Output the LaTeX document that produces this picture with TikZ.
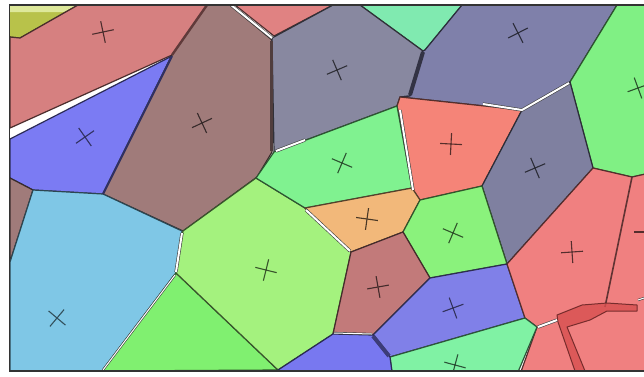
\documentclass[tikz,border=0pt]{standalone}
\definecolor{cOlive}{HTML}{B8C24A}
\definecolor{cOliveL}{HTML}{DDE89A}
\definecolor{cPinkTL}{HTML}{D68080}
\definecolor{cBlue}{HTML}{7B7BF3}
\definecolor{cBrown}{HTML}{A07B7A}
\definecolor{cLBlue}{HTML}{7FC7E6}
\definecolor{cGreenB}{HTML}{80F070}
\definecolor{cLGreen}{HTML}{A4F27E}
\definecolor{cPinkTop}{HTML}{E08282}
\definecolor{cGray}{HTML}{8888A0}
\definecolor{cMint}{HTML}{80EAB0}
\definecolor{cSlateT}{HTML}{7F80AA}
\definecolor{cGreenR}{HTML}{80F084}
\definecolor{cSalmon}{HTML}{F58478}
\definecolor{cGreenM}{HTML}{80F290}
\definecolor{cSlateM}{HTML}{7F80A0}
\definecolor{cOrange}{HTML}{F2B87A}
\definecolor{cGreenTwo}{HTML}{8AF27C}
\definecolor{cMauve}{HTML}{C27A7A}
\definecolor{cBlueM}{HTML}{8080E8}
\definecolor{cGreenThree}{HTML}{80F2A4}
\definecolor{cBlueTwo}{HTML}{7878F0}
\definecolor{cRed}{HTML}{F08080}
\definecolor{cBand}{HTML}{D85050}
\newcommand\vorcross[4]{\begin{scope}[shift={(#2,#3)},rotate=#4]\draw[line width=1.1pt,#1] (-11,0) -- (11,0) (0,-11) -- (0,11);\end{scope}}
\begin{document}
\begin{tikzpicture}[x=1pt,y=-1pt,
  cell/.style={fill=#1, draw=#1!35!black, line width=1.2pt, line join=round},
  gapline/.style={draw=black!75, double=white, double distance=#1, line width=0.6pt},
  gapline/.default=2pt,
  stripline/.style={draw=#1, line width=3pt}]
\useasboundingbox (0,0) rectangle (644,376);
\begin{scope}
\clip (10,5) rectangle (644,371);
% cells
\fill[cOlive] (10,5) -- (78,5) -- (20,38) -- (10,37) -- cycle;
\fill[cOliveL] (10,5) -- (78,5) -- (66,12) -- (10,12) -- cycle;
\draw[cOlive!40!black, line width=1.2pt] (78,5) -- (20,38) -- (10,37);
\path[cell=cPinkTL] (78,5) -- (210,5) -- (172,55) -- (10,128) -- (10,37) -- (20,38) -- cycle;
\path[cell=cBlue] (172,56) -- (10,139) -- (10,178) -- (33,190) -- (103,194) -- cycle;
\path[cell=cBrown] (172,55) -- (207,5) -- (230,5) -- (272,40) -- (272,152) -- (257,177) -- (183,231) -- (103,194) -- cycle;
\path[cell=cBrown] (10,178) -- (33,190) -- (10,262) -- cycle;
\path[cell=cLBlue] (33,190) -- (103,194) -- (182,231) -- (176,273) -- (102,371) -- (10,371) -- (10,262) -- cycle;
\path[cell=cGreenB] (176,273) -- (278,370) -- (102,371) -- cycle;
\path[cell=cLGreen] (256,178) -- (305,208) -- (351,252) -- (333,334) -- (278,370) -- (176,273) -- (183,231) -- cycle;
\path[cell=cPinkTop] (235,5) -- (333,5) -- (274,36) -- cycle;
\path[cell=cMint] (360,5) -- (462,5) -- (425,50) -- (423,51) -- cycle;
\path[cell=cGray] (272,38) -- (333,5) -- (360,5) -- (423,51) -- (410,96) -- (400,97) -- (397,106) -- (274,152) -- cycle;
\path[cell=cSlateT] (462,5) -- (617,5) -- (570,82) -- (522,110) -- (400,97) -- (410,96) -- (423,51) -- (425,50) -- cycle;
\path[cell=cGreenR] (617,5) -- (650,5) -- (650,173) -- (632,177) -- (593,168) -- (570,82) -- cycle;
\path[cell=cSalmon] (400,97) -- (522,110) -- (482,186) -- (420,200) -- (412,188) -- (397,106) -- cycle;
\path[cell=cSlateM] (522,110) -- (570,82) -- (593,168) -- (507,264) -- (482,186) -- cycle;
\path[cell=cGreenM] (274,152) -- (397,106) -- (412,188) -- (305,208) -- (256,178) -- cycle;
\path[cell=cOrange] (305,208) -- (412,188) -- (420,200) -- (403,232) -- (351,252) -- cycle;
\path[cell=cGreenTwo] (420,200) -- (482,186) -- (507,264) -- (430,278) -- (403,232) -- cycle;
\path[cell=cMauve] (351,252) -- (403,232) -- (430,278) -- (373,335) -- (333,334) -- cycle;
\path[cell=cBlueM] (430,278) -- (507,264) -- (525,318) -- (390,357) -- (373,335) -- cycle;
\path[cell=cRed] (507,264) -- (593,168) -- (632,177) -- (650,173) -- (650,380) -- (518,380) -- (537,327) -- (525,318) -- cycle;
\path[cell=cGreenThree] (390,357) -- (525,318) -- (537,327) -- (518,372) -- (392,372) -- cycle;
\path[cell=cBlueTwo] (278,370) -- (333,334) -- (373,335) -- (390,357) -- (392,372) -- (276,372) -- cycle;
% heavy boundaries
\draw[cRed!40!black, line width=1.6pt] (632,177) -- (605,307);
\path[fill=cBand, fill opacity=0.8, draw=cBand!55!black, line width=1pt, line join=round]
  (557,315) -- (582,305) -- (607,303) -- (637,305) -- (637,311) -- (607,311) -- (590,320)
  -- (567,327) -- (585,371) -- (575,371) -- (558,322) -- cycle;
\draw[gapline=1pt] (638,300) -- (644,298);
\draw[stripline=cPinkTL!45!black, line width=2.4pt] (172,55) -- (207,5);
\draw[stripline=cBlue!40!black, line width=2.2pt] (172,56) -- (103,194);
\draw[stripline=cBrown!50!black] (271,41) -- (271,151);
\draw[stripline=cSlateT!40!black, line width=4pt] (423,52) -- (410,95);
\draw[stripline=cBlueTwo!50!black, line width=4pt] (373,336) -- (389,356);
\draw[gapline] (231,5) -- (272,38);
\draw[gapline] (276,151) -- (305,140);
\draw[gapline] (400,110) -- (413,190);
\draw[gapline] (483,104) -- (522,110) -- (569,83);
\draw[gapline] (182,233) -- (176,272);
\draw[gapline=1pt] (175,275) -- (103,370);
\draw[gapline] (306,210) -- (350,251);
\draw[gapline=1pt] (334,333) -- (372,334);
\draw[gapline] (538,327) -- (557,320);
% crosses
\vorcross{cPinkTL!35!black}{103}{32}{12}
\vorcross{cBlue!40!black}{85}{137}{35}
\vorcross{cBrown!35!black}{202}{123}{25}
\vorcross{cGray!35!black}{337}{70}{23}
\vorcross{cSlateT!35!black}{518}{33}{27}
\vorcross{cGreenR!35!black}{638}{88}{20}
\vorcross{cSalmon!35!black}{451}{144}{-3}
\vorcross{cGreenM!35!black}{342}{163}{-23}
\vorcross{cSlateM!35!black}{535}{168}{23}
\vorcross{cOrange!30!black}{367}{219}{-8}
\vorcross{cGreenTwo!35!black}{453}{233}{-23}
\vorcross{cLGreen!35!black}{266}{270}{-14}
\vorcross{cRed!35!black}{572}{252}{4}
\vorcross{cMauve!35!black}{378}{287}{10}
\vorcross{cBlueM!40!black}{453}{308}{20}
\vorcross{cGreenThree!35!black}{455}{365}{-15}
\vorcross{cLBlue!40!black}{57}{318}{-40}
\vorcross{cRed!35!black}{645}{232}{0}
\end{scope}
% frame
\draw[black!80, line width=1.2pt] (644,5) -- (9.5,5) -- (9.5,371) -- (644,371);
\end{tikzpicture}
\end{document}
